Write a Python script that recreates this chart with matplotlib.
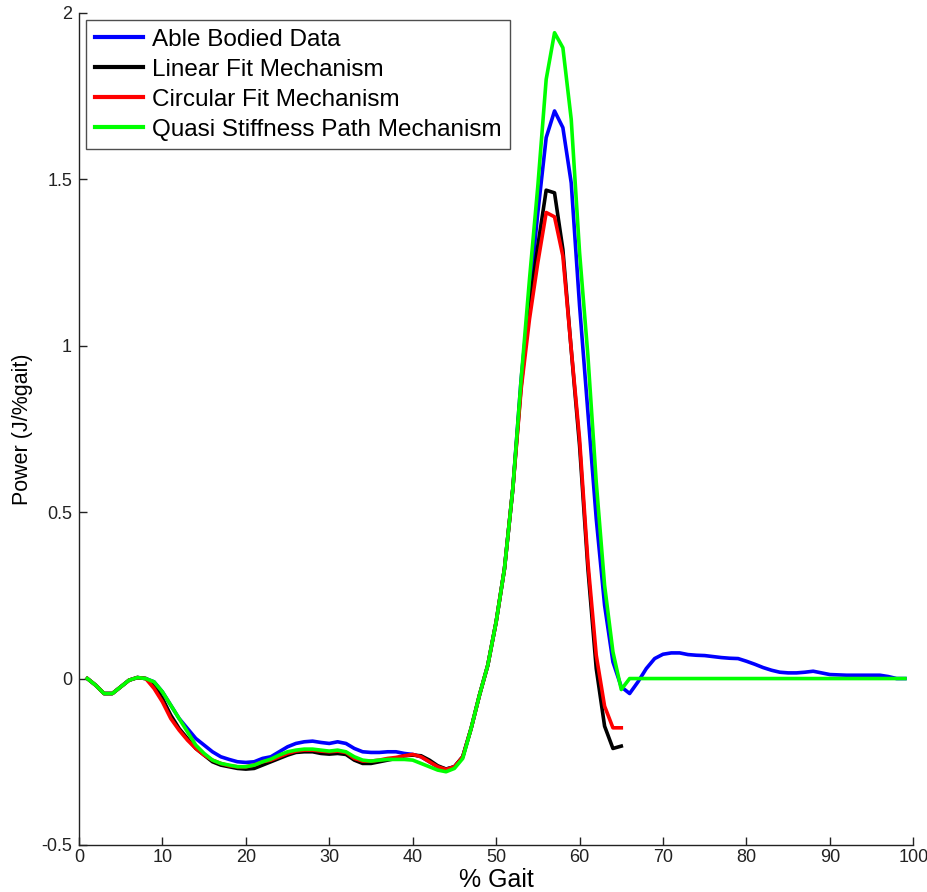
import matplotlib
matplotlib.use("Agg")
import matplotlib.pyplot as plt
from matplotlib.ticker import FuncFormatter

plt.rcParams['font.family'] = ['Liberation Sans', 'DejaVu Sans']

# Percent of gait cycle
gait = list(range(1, 100))

able_bodied = [
    0.0, -0.02, -0.045, -0.045, -0.025, -0.005, 0.003, 0.0, -0.01, -0.04,
    -0.08, -0.12, -0.15, -0.18, -0.20, -0.22, -0.235, -0.243, -0.25, -0.252,
    -0.25, -0.24, -0.235, -0.22, -0.205, -0.195, -0.19, -0.188, -0.192, -0.195,
    -0.19, -0.195, -0.21, -0.22, -0.222, -0.222, -0.22, -0.22, -0.225, -0.228,
    -0.235, -0.25, -0.265, -0.272, -0.265, -0.235, -0.15, -0.05, 0.04, 0.17,
    0.33, 0.57, 0.90, 1.15, 1.40, 1.625, 1.705, 1.655, 1.489, 1.12,
    0.80, 0.48, 0.22, 0.05, -0.025, -0.045, -0.01, 0.03, 0.06, 0.073,
    0.077, 0.077, 0.072, 0.070, 0.069, 0.066, 0.063, 0.061, 0.060, 0.052,
    0.043, 0.033, 0.025, 0.019, 0.017, 0.017, 0.019, 0.022, 0.017, 0.012,
    0.011, 0.010, 0.010, 0.010, 0.010, 0.010, 0.006, 0.0, 0.0,
]

linear_fit = [
    0.0, -0.02, -0.045, -0.045, -0.025, -0.005, 0.003, 0.0, -0.02, -0.06,
    -0.11, -0.15, -0.18, -0.21, -0.23, -0.25, -0.26, -0.265, -0.27, -0.272,
    -0.27, -0.26, -0.25, -0.24, -0.23, -0.222, -0.22, -0.22, -0.225, -0.227,
    -0.225, -0.228, -0.245, -0.255, -0.255, -0.25, -0.245, -0.24, -0.232, -0.23,
    -0.232, -0.245, -0.262, -0.272, -0.265, -0.235, -0.15, -0.05, 0.04, 0.17,
    0.33, 0.57, 0.88, 1.12, 1.30, 1.467, 1.459, 1.289, 0.988, 0.70,
    0.33, 0.03, -0.143, -0.21, -0.203,
]

circular_fit = [
    0.0, -0.02, -0.045, -0.045, -0.025, -0.005, 0.003, 0.0, -0.03, -0.07,
    -0.12, -0.155, -0.185, -0.21, -0.23, -0.245, -0.255, -0.262, -0.265, -0.265,
    -0.26, -0.25, -0.245, -0.235, -0.225, -0.218, -0.215, -0.215, -0.218, -0.22,
    -0.218, -0.222, -0.24, -0.248, -0.248, -0.245, -0.24, -0.237, -0.232, -0.228,
    -0.235, -0.25, -0.265, -0.273, -0.265, -0.235, -0.15, -0.05, 0.04, 0.17,
    0.33, 0.57, 0.87, 1.08, 1.25, 1.40, 1.387, 1.269, 0.99, 0.72,
    0.35, 0.07, -0.083, -0.148, -0.148,
]

quasi_stiffness = [
    0.0, -0.02, -0.045, -0.045, -0.025, -0.005, 0.003, 0.0, -0.01, -0.04,
    -0.08, -0.12, -0.16, -0.20, -0.225, -0.245, -0.255, -0.26, -0.265, -0.265,
    -0.26, -0.25, -0.242, -0.23, -0.22, -0.215, -0.212, -0.212, -0.215, -0.218,
    -0.215, -0.22, -0.235, -0.245, -0.248, -0.245, -0.243, -0.243, -0.243, -0.245,
    -0.255, -0.265, -0.275, -0.28, -0.27, -0.24, -0.15, -0.05, 0.04, 0.17,
    0.33, 0.57, 0.90, 1.20, 1.48, 1.80, 1.94, 1.895, 1.68, 1.28,
    0.97, 0.59, 0.28, 0.08, -0.033,
] + [0.0] * 34

series_labels = ["Able Bodied Data", "Linear Fit Mechanism",
                 "Circular Fit Mechanism", "Quasi Stiffness Path Mechanism"]
x_ticks = list(range(0, 101, 10))
y_ticks = [-0.5, 0, 0.5, 1, 1.5, 2]

fig = plt.figure(figsize=(9.27, 8.92), dpi=100)
ax = fig.add_axes([0.0852, 0.0527, 0.9, 0.933])

lw = 2.6
ax.plot(gait, able_bodied, color=(0, 0, 1), lw=lw, label=series_labels[0])
ax.plot(gait[:len(linear_fit)], linear_fit, color=(0, 0, 0), lw=lw, label=series_labels[1])
ax.plot(gait[:len(circular_fit)], circular_fit, color=(1, 0, 0), lw=lw, label=series_labels[2])
ax.plot(gait, quasi_stiffness, color=(0, 1, 0), lw=lw, label=series_labels[3])

ax.set_xlim(0, 100)
ax.set_ylim(-0.5, 2)
ax.set_xticks(x_ticks)
ax.set_yticks(y_ticks)
ax.yaxis.set_major_formatter(FuncFormatter(lambda v, p: f"{v:g}"))

for side in ("top", "right"):
    ax.spines[side].set_visible(False)
for side in ("left", "bottom"):
    ax.spines[side].set_color("#222222")
    ax.spines[side].set_linewidth(1.0)

ax.tick_params(direction="in", length=6, width=1.0, colors="#222222",
               labelsize=13, top=False, right=False)
ax.tick_params(axis="x", pad=3)
ax.tick_params(axis="y", pad=5)

ax.set_xlabel("% Gait", fontsize=18, labelpad=1)
ax.set_ylabel("Power (J/%gait)", fontsize=15.5, labelpad=6)

leg = ax.legend(loc="upper left", fontsize=17.5, frameon=True, fancybox=False,
                edgecolor="#222222", borderaxespad=0.3, handlelength=2.0,
                handletextpad=0.35, labelspacing=0.33, borderpad=0.35)
leg.get_frame().set_linewidth(1.0)
for line in leg.get_lines():
    line.set_linewidth(3.0)

fig.savefig("out.png", dpi=100, facecolor="white")
